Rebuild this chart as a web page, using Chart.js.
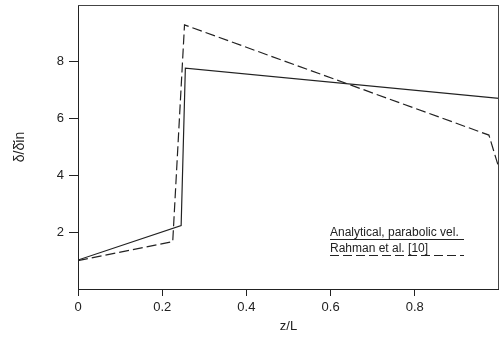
<!DOCTYPE html>
<html><head><meta charset="utf-8">
<script src="https://cdn.jsdelivr.net/npm/chart.js@4.4.1/dist/chart.umd.min.js"></script>
<style>html,body{margin:0;padding:0;background:#fff;}#c{display:block;}</style>
</head><body>
<canvas id="c" width="499" height="338"></canvas>
<script>
const analyticalX = [0, 0.245, 0.255, 1.0];
const analyticalY = [1.02, 2.23, 7.78, 6.71];
const rahmanX = [0, 0.225, 0.253, 0.976, 1.0];
const rahmanY = [1.0, 1.67, 9.3, 5.42, 4.25];
const xTicks = [0, 0.2, 0.4, 0.6, 0.8];
const yTicks = [2, 4, 6, 8];
const legendLabels = ["Analytical, parabolic vel.", "Rahman et al. [10]"];
const xTitle = "z/L";
const yTitle = "δ/δ̄in";

const toPts = (xs, ys) => xs.map((x, i) => ({x: x, y: ys[i]}));
const INK = '#222';
const FONT = "'Liberation Sans', Arial, sans-serif";

const framePlugin = {
  id: 'frame',
  afterDraw(chart) {
    const {ctx, chartArea: a} = chart;
    ctx.save();
    ctx.strokeStyle = '#444';
    ctx.lineWidth = 1;
    ctx.beginPath();
    ctx.moveTo(a.left, a.top + 0.5);
    ctx.lineTo(a.right, a.top + 0.5);
    ctx.moveTo(a.right - 0.5, a.top);
    ctx.lineTo(a.right - 0.5, a.bottom);
    ctx.stroke();
    // legend
    const lx0 = 330, lx1 = 464;
    ctx.fillStyle = INK;
    ctx.font = "12px " + FONT;
    ctx.textBaseline = 'alphabetic';
    ctx.textAlign = 'left';
    ctx.fillText(legendLabels[0], lx0, 236);
    ctx.fillText(legendLabels[1], lx0, 252);
    ctx.strokeStyle = INK;
    ctx.beginPath();
    ctx.moveTo(lx0, 239.5); ctx.lineTo(lx1, 239.5);
    ctx.stroke();
    ctx.setLineDash([9, 4]);
    ctx.beginPath();
    ctx.moveTo(lx0, 255.5); ctx.lineTo(lx1, 255.5);
    ctx.stroke();
    ctx.restore();
  }
};

new Chart(document.getElementById('c'), {
  type: 'scatter',
  data: {
    datasets: [
      {label: legendLabels[0], data: toPts(analyticalX, analyticalY), showLine: true,
       borderColor: INK, borderWidth: 1.2, pointRadius: 0, tension: 0},
      {label: legendLabels[1], data: toPts(rahmanX, rahmanY), showLine: true,
       borderColor: INK, borderWidth: 1.2, borderDash: [10, 4], pointRadius: 0, tension: 0}
    ]
  },
  options: {
    responsive: false,
    animation: false,
    layout: {padding: {top: 5, right: 0, left: 0, bottom: 0}},
    plugins: {legend: {display: false}, tooltip: {enabled: false}},
    scales: {
      x: {
        type: 'linear', min: 0, max: 1,
        afterBuildTicks: s => { s.ticks = xTicks.map(v => ({value: v})); },
        afterFit: s => { s.height = 49; s.paddingRight = 0; },
        ticks: {
          color: INK, font: {family: FONT, size: 13}, padding: 4, maxRotation: 0
        },
        grid: {drawOnChartArea: false, drawTicks: true, tickLength: 7, color: INK},
        border: {color: INK, width: 1},
        title: {display: true, text: xTitle, color: INK, font: {family: FONT, size: 13}, padding: {top: 6}}
      },
      y: {
        type: 'linear', min: 0, max: 10,
        afterBuildTicks: s => { s.ticks = yTicks.map(v => ({value: v})); },
        afterFit: s => { s.width = 78; s.paddingTop = 0; },
        ticks: {
          color: INK, font: {family: FONT, size: 13}, padding: 5
        },
        grid: {drawOnChartArea: false, drawTicks: true, tickLength: 9, color: INK},
        border: {color: INK, width: 1},
        title: {display: true, text: yTitle, color: INK, font: {family: FONT, size: 14}, padding: {top: 12, bottom: 4}}
      }
    }
  },
  plugins: [framePlugin]
});
</script>
</body></html>
